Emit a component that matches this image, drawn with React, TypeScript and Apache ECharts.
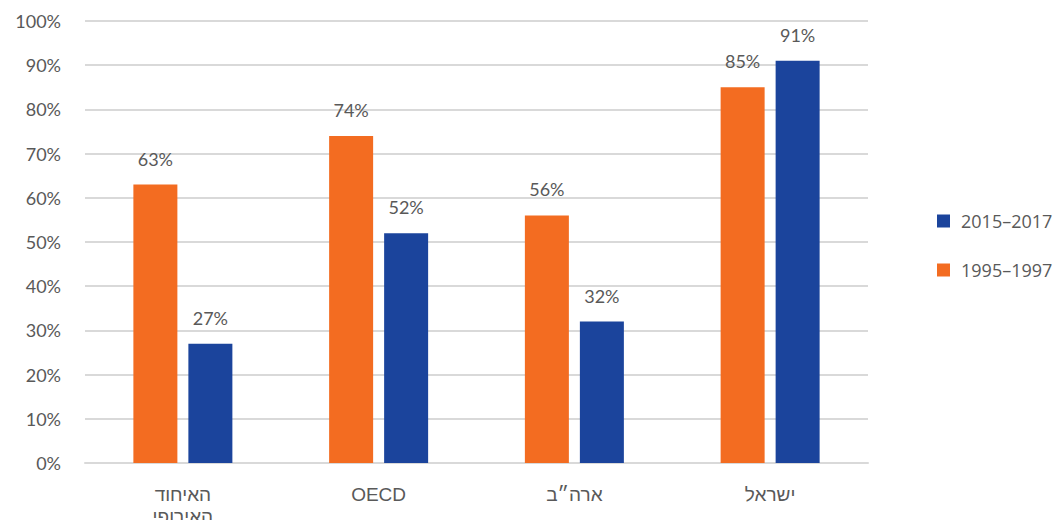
import React, { useEffect, useRef } from "react";
import * as echarts from "echarts";

const categories = ["האיחוד\nהאירופי", "OECD", "ארה״ב", "ישראל"];
const series1995 = [63, 74, 56, 85];
const series2015 = [27, 52, 32, 91];
const yTicks = [0, 10, 20, 30, 40, 50, 60, 70, 80, 90, 100];

export default function App() {
  const ref = useRef<HTMLDivElement>(null);
  useEffect(() => {
    if (!ref.current) return;
    const chart = echarts.init(ref.current, undefined, { renderer: "svg" });
    const numFont = "Lato, 'Noto Sans', sans-serif";
    chart.setOption({
      animation: false,
      grid: { left: 85, right: 196, top: 21, bottom: 57, outerBoundsMode: "none", containLabel: false },
      legend: {
        orient: "vertical",
        left: 932,
        top: 207,
        itemWidth: 13,
        itemHeight: 13,
        itemGap: 31,
        icon: "rect",
        data: ["2015–2017", "1995–1997"],
        textStyle: { fontFamily: "'Open Sans', sans-serif", fontSize: 18, color: "#595959", padding: [0, 0, 0, 6] },
      },
      xAxis: {
        type: "category",
        data: categories,
        axisTick: { show: false },
        axisLine: { lineStyle: { color: "#d9d9d9", width: 2 } },
        axisLabel: {
          fontFamily: "'Liberation Sans', 'DejaVu Sans', sans-serif",
          fontSize: 19,
          color: "#595959",
          margin: 20,
          lineHeight: 22,
          interval: 0,
        },
      },
      yAxis: {
        type: "value",
        min: 0,
        max: 100,
        interval: 10,
        axisLine: { show: false },
        axisTick: { show: false },
        splitLine: { lineStyle: { color: "#d9d9d9", width: 2 } },
        axisLabel: {
          formatter: (v: number) => (yTicks.includes(v) ? v + "%" : ""),
          fontFamily: numFont,
          fontSize: 18,
          color: "#595959",
          margin: 24,
        },
      },
      series: [
        {
          name: "1995–1997",
          type: "bar",
          data: series1995,
          barWidth: 44,
          barGap: "25%",
          itemStyle: { color: "#F36C21" },
          label: {
            show: true,
            position: "top",
            distance: 17,
            formatter: "{c}%",
            fontFamily: numFont,
            fontSize: 18,
            color: "#595959",
          },
        },
        {
          name: "2015–2017",
          type: "bar",
          data: series2015,
          barWidth: 44,
          itemStyle: { color: "#1B449C" },
          label: {
            show: true,
            position: "top",
            distance: 17,
            formatter: "{c}%",
            fontFamily: numFont,
            fontSize: 18,
            color: "#595959",
          },
        },
      ],
    });
    return () => chart.dispose();
  }, []);
  return (
    <div
      ref={ref}
      style={{ position: "absolute", left: 0, top: 0, width: 1064, height: 520 }}
    />
  );
}
